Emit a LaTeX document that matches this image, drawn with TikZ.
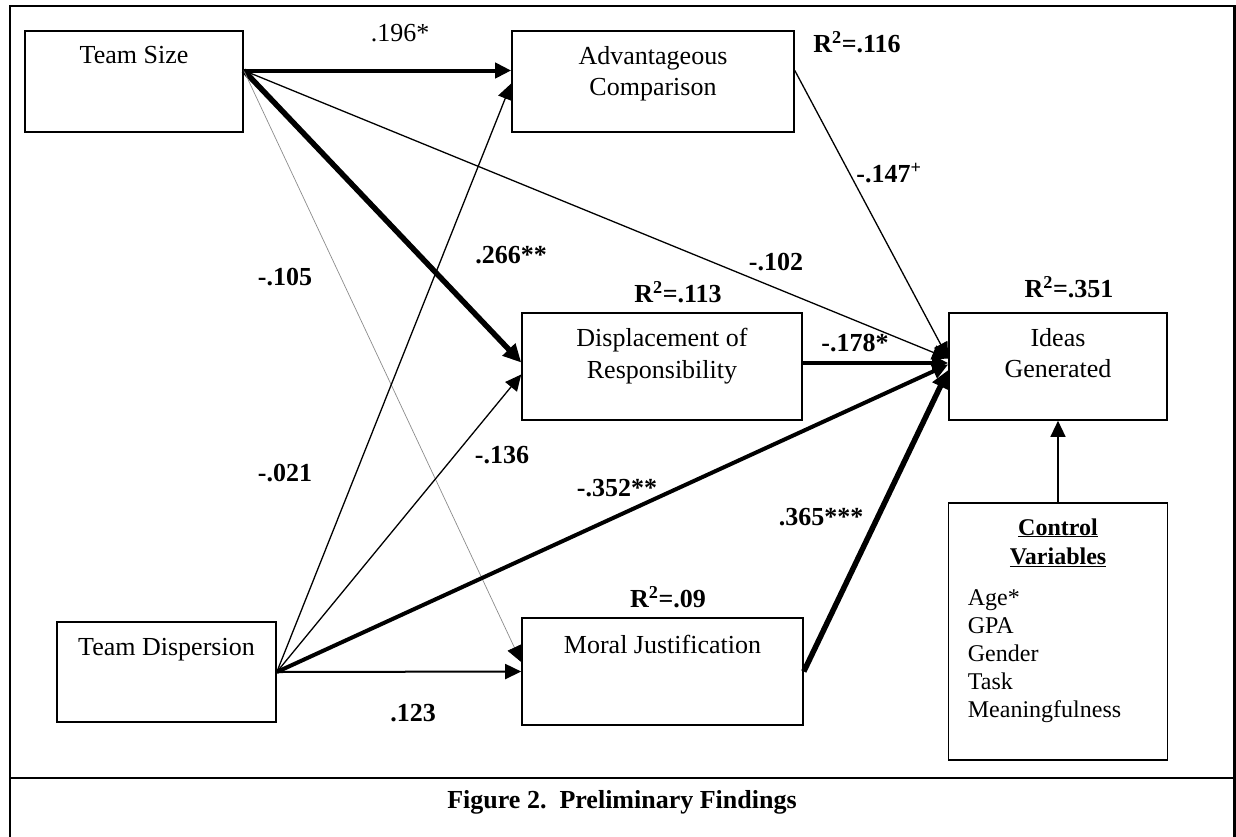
\documentclass[tikz,border=0pt]{standalone}
\usepackage{fontspec}
\setmainfont{Liberation Serif}
\usetikzlibrary{arrows.meta}

\begin{document}
\begin{tikzpicture}[x=1pt,y=-1pt,>={Triangle[length=16pt,width=15pt]},
  var/.style={draw,line width=1.6pt,inner sep=0pt,minimum height=101pt},
  vartext/.style={anchor=north,yshift=-16pt,inner sep=0pt,align=center,font=\fontsize{26}{31.5}\selectfont},
  coef/.style={inner sep=0pt,font=\fontsize{26}{31.5}\selectfont\bfseries},
  faint/.style={line width=0.7pt,black!45,-{Triangle[length=16pt,width=15pt,black]}},
  thin/.style={line width=1.3pt,->},
  mid/.style={line width=2pt,->},
  bold/.style={line width=4pt,->},
  heavy/.style={line width=5.5pt,-{Triangle[length=18pt,width=17pt]}}]
\useasboundingbox (0,0) rectangle (1236,836);
\fill[white] (0,0) rectangle (1236,836);
\draw[line width=2.7pt] (10,840) -- (10,6) -- (1234.5,6) -- (1234.5,840);
\draw[line width=2.7pt] (10,778) -- (1234.5,778);

\node[var,minimum width=218pt,label={[vartext]north:Team Size}] (v_size) at (134,81.5) {};
\node[var,minimum width=282pt,label={[vartext]north:Advantageous\\Comparison}] (v_adv) at (653,81.5) {};
\node[var,minimum width=280pt,minimum height=107pt,label={[vartext]north:Displacement of\\Responsibility}] (v_disp) at (662,366.5) {};
\node[var,minimum width=218pt,minimum height=107pt,label={[vartext]north:Ideas\\Generated}] (v_ideas) at (1058,366.5) {};
\node[var,minimum width=281pt,minimum height=107pt,label={[vartext,yshift=-2pt]north:Moral Justification}] (v_moral) at (662.5,671.5) {};
\node[var,minimum width=219pt,minimum height=100pt,label={[vartext,yshift=-1pt]north:Team Dispersion}] (v_disper) at (166.5,672) {};
\node[var,minimum width=219pt,minimum height=257pt,
  label={[anchor=north,yshift=-16pt,inner sep=0pt,align=center,font=\fontsize{24}{29}\selectfont\bfseries]north:\underline{Control}\\\underline{Variables}},
  label={[anchor=north west,xshift=20pt,yshift=-87pt,inner sep=0pt,align=left,font=\fontsize{24}{28}\selectfont]north west:Age*\\GPA\\Gender\\Task\\Meaningfulness}] (v_ctrl) at (1058,631.5) {};

\node[coef,font=\fontsize{26}{31.5}\selectfont] (c_sa) at (400,33) {.196*};
\node[coef] (r_adv) at (857,42) {R\textsuperscript{2}=.116};
\node[coef] (c_ai) at (889,173) {-.147\textsuperscript{+}};
\node[coef] (c_sd) at (511,255) {.266**};
\node[coef] (c_sm) at (285,277) {-.105};
\node[coef] (c_si) at (776,262) {-.102};
\node[coef] (r_disp) at (678,292) {R\textsuperscript{2}=.113};
\node[coef] (r_ideas) at (1069,287) {R\textsuperscript{2}=.351};
\node[coef] (c_di) at (855,343) {-.178*};
\node[coef] (c_da) at (285,473) {-.021};
\node[coef] (c_dd) at (502,455) {-.136};
\node[coef] (c_dn) at (617,488) {-.352**};
\node[coef] (c_mi) at (821,517) {.365***};
\node[coef] (r_moral) at (668,597) {R\textsuperscript{2}=.09};
\node[coef] (c_dm) at (413,713) {.123};
\node[coef] (cap) at (622,802) {Figure 2.\ \ Preliminary Findings};

\draw[bold] ([yshift=11pt]v_size.east) -- ([yshift=11pt]v_adv.west);
\draw[heavy] ([yshift=11pt]v_size.east) -- ([yshift=4pt]v_disp.west);
\draw[faint] ([yshift=11pt]v_size.east) -- ([yshift=9.5pt]v_moral.west);
\draw[thin] ([yshift=11pt]v_size.east) -- ([yshift=8pt]v_ideas.west);
\draw[thin] ([yshift=11pt]v_adv.east) -- ([yshift=8pt]v_ideas.west);
\draw[bold] ([yshift=3.5pt]v_disp.east) -- ([yshift=3.5pt]v_ideas.west);
\draw[thin] (v_disper.east) -- ([yshift=-2pt]v_adv.west);
\draw[thin] (v_disper.east) -- ([yshift=-8pt]v_disp.west);
\draw[bold] (v_disper.east) -- ([yshift=2pt]v_ideas.west);
\draw[mid] (v_disper.east) -- (v_moral.west);
\draw[heavy] (v_moral.east) -- ([yshift=-3.5pt]v_ideas.west);
\draw[thin] (v_ctrl.north) -- (v_ideas.south);
\end{tikzpicture}
\end{document}
